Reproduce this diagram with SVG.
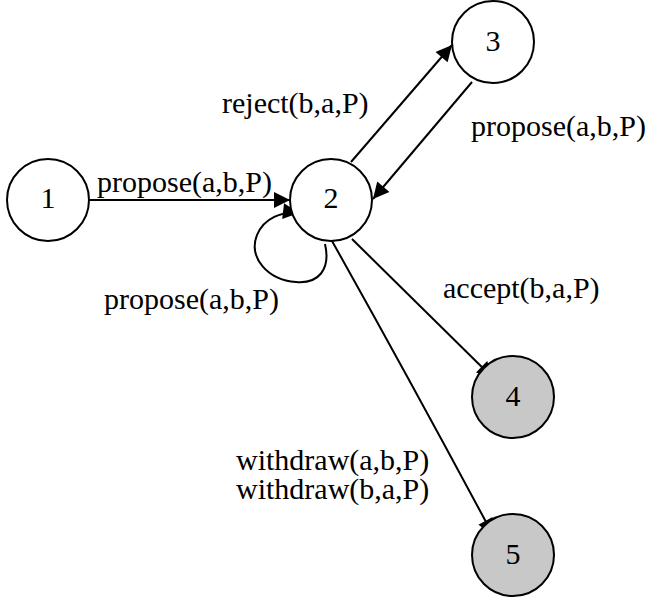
<svg xmlns="http://www.w3.org/2000/svg" width="647" height="597" viewBox="0 0 647 597">
  <style>
    .node { stroke: #000; stroke-width: 2; fill: #fff; }
    .final { fill: #c8c8c8; }
    .edge { stroke: #000; stroke-width: 2; fill: none; marker-end: url(#arrow); }
    text { font-family: "Liberation Serif", "Times New Roman", serif; font-size: 30px; fill: #000; }
    .num { text-anchor: middle; }
  </style>
  <defs>
    <!-- filled triangular arrowhead shared by all transitions -->
    <marker id="arrow" viewBox="0 0 10 10" refX="10" refY="5" markerWidth="20" markerHeight="16" markerUnits="userSpaceOnUse" orient="auto">
      <path d="M0,0 L10,5 L0,10 z" fill="#000"/>
    </marker>
  </defs>

  <g id="connectors">
    <path class="edge" d="M90,200 L290,200"/>
    <path class="edge" d="M351,162 L452,45"/>
    <path class="edge" d="M472,82 L373,199"/>
    <path class="edge" d="M325,244 C331,270 318,284 296,282 C268,280 248,258 257,235 C264,218 282,211 299,213"/>
    <path class="edge" d="M352,239 L493,378"/>
    <path class="edge" d="M332,241 Q410,380 493,535"/>
  </g>

  <g id="labels">
    <text x="97" y="192">propose(a,b,P)</text>
    <text x="222" y="113">reject(b,a,P)</text>
    <text x="471" y="136">propose(a,b,P)</text>
    <text x="104" y="309">propose(a,b,P)</text>
    <text x="443" y="298">accept(b,a,P)</text>
    <text x="236" y="470">withdraw(a,b,P)</text>
    <text x="236" y="499">withdraw(b,a,P)</text>
  </g>

  <g id="node1">
    <circle class="node" cx="48" cy="200" r="41"/>
    <text class="num" x="48" y="208">1</text>
  </g>
  <g id="node2">
    <circle class="node" cx="331" cy="200" r="41"/>
    <text class="num" x="331" y="208">2</text>
  </g>
  <g id="node3">
    <circle class="node" cx="493" cy="42" r="41"/>
    <text class="num" x="493" y="51">3</text>
  </g>
  <g id="node4">
    <circle class="node final" cx="513" cy="397" r="41"/>
    <text class="num" x="513" y="406">4</text>
  </g>
  <g id="node5">
    <circle class="node final" cx="513" cy="555" r="41"/>
    <text class="num" x="513" y="564">5</text>
  </g>
</svg>
